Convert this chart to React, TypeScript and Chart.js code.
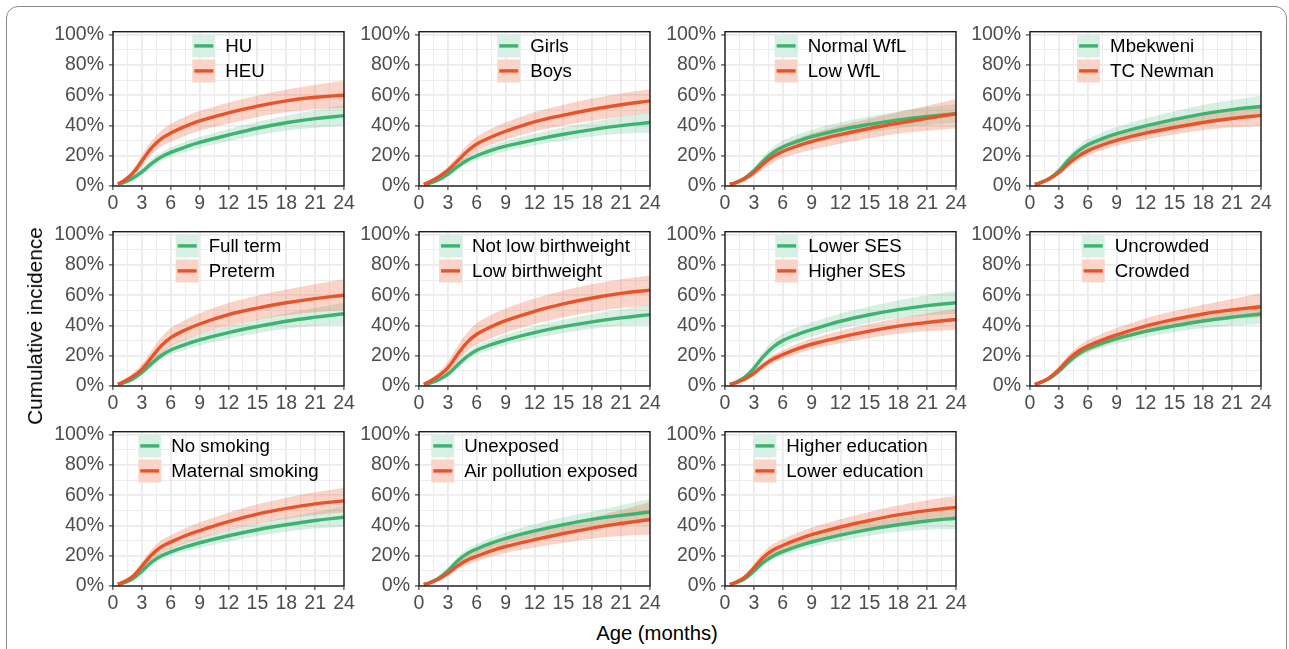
import React, { useEffect, useRef } from 'react';
import { Chart, registerables } from 'chart.js';

Chart.register(...registerables);

// ---------- shared axes / ticks ----------
const MONTHS = [0.5, 1, 2, 3, 4, 5, 6, 7.5, 9, 12, 15, 18, 21, 24];
const X_GRID = [0, 1.5, 3, 4.5, 6, 7.5, 9, 10.5, 12, 13.5, 15, 16.5, 18, 19.5, 21, 22.5, 24];
const X_LABELED = [0, 3, 6, 9, 12, 15, 18, 21, 24];
const Y_GRID = [0, 0.1, 0.2, 0.3, 0.4, 0.5, 0.6, 0.7, 0.8, 0.9, 1.0];
const Y_LABELED = [0, 0.2, 0.4, 0.6, 0.8, 1.0];
const X_TITLE = 'Age (months)';
const Y_TITLE = 'Cumulative incidence';

// ---------- panel 1: HIV exposure ----------
const hivLabels = ['HU', 'HEU'];
const hivG = [0.010, 0.020, 0.050, 0.093, 0.148, 0.192, 0.222, 0.257, 0.288, 0.337, 0.382, 0.418, 0.445, 0.465];
const hivGLo = [0.005, 0.012, 0.035, 0.072, 0.123, 0.163, 0.191, 0.224, 0.252, 0.295, 0.335, 0.365, 0.385, 0.398];
const hivGHi = [0.016, 0.030, 0.066, 0.115, 0.175, 0.221, 0.254, 0.292, 0.325, 0.377, 0.425, 0.465, 0.500, 0.535];
const hivO = [0.015, 0.030, 0.080, 0.165, 0.252, 0.312, 0.350, 0.394, 0.430, 0.483, 0.528, 0.563, 0.587, 0.600];
const hivOLo = [0.007, 0.018, 0.058, 0.130, 0.207, 0.260, 0.292, 0.331, 0.365, 0.413, 0.455, 0.487, 0.507, 0.515];
const hivOHi = [0.024, 0.045, 0.105, 0.205, 0.297, 0.364, 0.410, 0.457, 0.495, 0.550, 0.598, 0.637, 0.668, 0.695];

// ---------- panel 2: sex ----------
const sexLabels = ['Girls', 'Boys'];
const sexG = [0.008, 0.016, 0.040, 0.078, 0.128, 0.170, 0.200, 0.235, 0.263, 0.305, 0.342, 0.373, 0.399, 0.420];
const sexGLo = [0.004, 0.010, 0.028, 0.060, 0.106, 0.145, 0.172, 0.204, 0.230, 0.268, 0.300, 0.327, 0.345, 0.352];
const sexGHi = [0.013, 0.024, 0.054, 0.098, 0.153, 0.197, 0.230, 0.268, 0.298, 0.345, 0.387, 0.424, 0.458, 0.490];
const sexO = [0.012, 0.024, 0.058, 0.104, 0.165, 0.228, 0.278, 0.324, 0.362, 0.424, 0.468, 0.506, 0.537, 0.563];
const sexOLo = [0.006, 0.015, 0.042, 0.082, 0.135, 0.190, 0.230, 0.272, 0.306, 0.360, 0.400, 0.432, 0.458, 0.485];
const sexOHi = [0.019, 0.034, 0.076, 0.128, 0.198, 0.270, 0.325, 0.378, 0.420, 0.488, 0.536, 0.578, 0.612, 0.640];

// ---------- panel 3: weight for length ----------
const wflLabels = ['Normal WfL', 'Low WfL'];
const wflG = [0.010, 0.020, 0.050, 0.100, 0.166, 0.220, 0.258, 0.295, 0.326, 0.372, 0.407, 0.437, 0.460, 0.478];
const wflGLo = [0.005, 0.013, 0.036, 0.078, 0.136, 0.185, 0.218, 0.252, 0.280, 0.322, 0.355, 0.382, 0.403, 0.418];
const wflGHi = [0.016, 0.028, 0.065, 0.123, 0.197, 0.256, 0.300, 0.340, 0.372, 0.422, 0.460, 0.493, 0.520, 0.540];
const wflO = [0.010, 0.019, 0.046, 0.089, 0.148, 0.195, 0.228, 0.264, 0.294, 0.340, 0.380, 0.415, 0.447, 0.478];
const wflOLo = [0.004, 0.010, 0.030, 0.064, 0.113, 0.155, 0.185, 0.215, 0.240, 0.280, 0.315, 0.345, 0.365, 0.380];
const wflOHi = [0.017, 0.029, 0.064, 0.115, 0.186, 0.238, 0.273, 0.314, 0.348, 0.400, 0.445, 0.487, 0.530, 0.575];

// ---------- panel 4: site ----------
const siteLabels = ['Mbekweni', 'TC Newman'];
const siteG = [0.010, 0.020, 0.050, 0.100, 0.172, 0.230, 0.272, 0.313, 0.346, 0.398, 0.440, 0.477, 0.505, 0.526];
const siteGLo = [0.006, 0.013, 0.037, 0.080, 0.145, 0.197, 0.235, 0.273, 0.303, 0.350, 0.388, 0.420, 0.444, 0.457];
const siteGHi = [0.015, 0.028, 0.064, 0.122, 0.200, 0.263, 0.310, 0.354, 0.390, 0.447, 0.493, 0.535, 0.568, 0.597];
const siteO = [0.010, 0.019, 0.047, 0.089, 0.148, 0.196, 0.232, 0.271, 0.302, 0.349, 0.387, 0.420, 0.446, 0.467];
const siteOLo = [0.006, 0.012, 0.034, 0.072, 0.124, 0.168, 0.201, 0.237, 0.266, 0.306, 0.340, 0.368, 0.386, 0.396];
const siteOHi = [0.015, 0.027, 0.061, 0.108, 0.174, 0.226, 0.265, 0.307, 0.340, 0.393, 0.435, 0.474, 0.507, 0.537];

// ---------- panel 5: gestation ----------
const termLabels = ['Full term', 'Preterm'];
const termG = [0.009, 0.018, 0.045, 0.089, 0.148, 0.200, 0.238, 0.274, 0.305, 0.353, 0.393, 0.428, 0.455, 0.478];
const termGLo = [0.005, 0.012, 0.034, 0.072, 0.126, 0.173, 0.208, 0.240, 0.268, 0.312, 0.348, 0.378, 0.397, 0.405];
const termGHi = [0.014, 0.025, 0.058, 0.108, 0.172, 0.228, 0.270, 0.310, 0.343, 0.397, 0.440, 0.480, 0.515, 0.550];
const termO = [0.012, 0.025, 0.060, 0.110, 0.188, 0.265, 0.320, 0.370, 0.410, 0.472, 0.515, 0.550, 0.578, 0.600];
const termOLo = [0.005, 0.013, 0.040, 0.080, 0.146, 0.212, 0.262, 0.306, 0.342, 0.398, 0.437, 0.467, 0.488, 0.500];
const termOHi = [0.020, 0.038, 0.082, 0.145, 0.233, 0.320, 0.382, 0.437, 0.480, 0.548, 0.597, 0.638, 0.673, 0.705];

// ---------- panel 6: birthweight ----------
const bwLabels = ['Not low birthweight', 'Low birthweight'];
const bwG = [0.008, 0.016, 0.040, 0.078, 0.138, 0.195, 0.236, 0.273, 0.304, 0.353, 0.392, 0.424, 0.450, 0.472];
const bwGLo = [0.004, 0.010, 0.029, 0.062, 0.118, 0.170, 0.208, 0.242, 0.270, 0.315, 0.350, 0.378, 0.398, 0.405];
const bwGHi = [0.012, 0.022, 0.052, 0.095, 0.160, 0.222, 0.266, 0.306, 0.340, 0.395, 0.438, 0.475, 0.507, 0.537];
const bwO = [0.013, 0.026, 0.065, 0.120, 0.208, 0.288, 0.342, 0.392, 0.432, 0.494, 0.543, 0.582, 0.612, 0.634];
const bwOLo = [0.005, 0.013, 0.042, 0.085, 0.158, 0.228, 0.272, 0.316, 0.352, 0.410, 0.455, 0.490, 0.515, 0.530];
const bwOHi = [0.022, 0.040, 0.090, 0.160, 0.263, 0.352, 0.415, 0.470, 0.513, 0.578, 0.630, 0.672, 0.705, 0.730];

// ---------- panel 7: socio-economic status ----------
const sesLabels = ['Lower SES', 'Higher SES'];
const sesG = [0.011, 0.022, 0.055, 0.117, 0.196, 0.258, 0.300, 0.340, 0.372, 0.428, 0.471, 0.505, 0.531, 0.550];
const sesGLo = [0.006, 0.014, 0.040, 0.092, 0.165, 0.222, 0.260, 0.297, 0.326, 0.378, 0.418, 0.448, 0.467, 0.478];
const sesGHi = [0.016, 0.030, 0.072, 0.142, 0.230, 0.297, 0.343, 0.386, 0.420, 0.480, 0.526, 0.566, 0.600, 0.630];
const sesO = [0.009, 0.018, 0.044, 0.084, 0.137, 0.178, 0.207, 0.245, 0.276, 0.323, 0.363, 0.396, 0.420, 0.440];
const sesOLo = [0.005, 0.012, 0.033, 0.067, 0.115, 0.152, 0.179, 0.213, 0.241, 0.283, 0.318, 0.346, 0.362, 0.370];
const sesOHi = [0.013, 0.025, 0.057, 0.102, 0.160, 0.205, 0.237, 0.278, 0.312, 0.365, 0.410, 0.448, 0.480, 0.510];

// ---------- panel 8: crowding ----------
const crowdLabels = ['Uncrowded', 'Crowded'];
const crowdG = [0.010, 0.020, 0.049, 0.097, 0.158, 0.210, 0.246, 0.283, 0.313, 0.361, 0.398, 0.430, 0.455, 0.476];
const crowdGLo = [0.006, 0.013, 0.037, 0.080, 0.136, 0.185, 0.219, 0.252, 0.279, 0.322, 0.355, 0.381, 0.399, 0.410];
const crowdGHi = [0.014, 0.027, 0.062, 0.115, 0.181, 0.235, 0.274, 0.315, 0.348, 0.402, 0.443, 0.480, 0.512, 0.540];
const crowdO = [0.011, 0.022, 0.054, 0.108, 0.176, 0.228, 0.264, 0.304, 0.338, 0.396, 0.440, 0.476, 0.503, 0.524];
const crowdOLo = [0.006, 0.014, 0.039, 0.086, 0.148, 0.196, 0.228, 0.265, 0.296, 0.348, 0.388, 0.420, 0.442, 0.455];
const crowdOHi = [0.016, 0.030, 0.070, 0.132, 0.205, 0.261, 0.302, 0.346, 0.383, 0.447, 0.495, 0.537, 0.575, 0.613];

// ---------- panel 9: smoking ----------
const smokeLabels = ['No smoking', 'Maternal smoking'];
const smokeG = [0.009, 0.018, 0.046, 0.097, 0.157, 0.198, 0.226, 0.258, 0.286, 0.332, 0.372, 0.405, 0.433, 0.455];
const smokeGLo = [0.005, 0.012, 0.035, 0.080, 0.135, 0.173, 0.199, 0.228, 0.252, 0.293, 0.330, 0.359, 0.380, 0.392];
const smokeGHi = [0.013, 0.025, 0.058, 0.115, 0.180, 0.224, 0.254, 0.290, 0.320, 0.371, 0.415, 0.453, 0.490, 0.528];
const smokeO = [0.012, 0.024, 0.060, 0.130, 0.205, 0.258, 0.290, 0.332, 0.366, 0.426, 0.475, 0.513, 0.543, 0.563];
const smokeOLo = [0.006, 0.014, 0.042, 0.100, 0.170, 0.217, 0.246, 0.283, 0.313, 0.368, 0.412, 0.444, 0.469, 0.487];
const smokeOHi = [0.018, 0.034, 0.078, 0.160, 0.242, 0.300, 0.336, 0.382, 0.420, 0.485, 0.540, 0.584, 0.620, 0.650];

// ---------- panel 10: air pollution ----------
const airLabels = ['Unexposed', 'Air pollution exposed'];
const airG = [0.010, 0.020, 0.050, 0.100, 0.165, 0.214, 0.245, 0.283, 0.315, 0.364, 0.406, 0.440, 0.467, 0.489];
const airGLo = [0.006, 0.013, 0.038, 0.082, 0.142, 0.187, 0.216, 0.250, 0.279, 0.322, 0.360, 0.390, 0.411, 0.424];
const airGHi = [0.014, 0.027, 0.063, 0.120, 0.190, 0.244, 0.277, 0.318, 0.353, 0.408, 0.454, 0.493, 0.533, 0.576];
const airO = [0.009, 0.018, 0.044, 0.084, 0.133, 0.171, 0.197, 0.232, 0.261, 0.306, 0.347, 0.383, 0.413, 0.440];
const airOLo = [0.004, 0.010, 0.030, 0.064, 0.108, 0.141, 0.163, 0.193, 0.218, 0.254, 0.286, 0.313, 0.330, 0.338];
const airOHi = [0.014, 0.026, 0.058, 0.105, 0.160, 0.203, 0.233, 0.273, 0.307, 0.360, 0.410, 0.455, 0.502, 0.554];

// ---------- panel 11: education ----------
const eduLabels = ['Higher education', 'Lower education'];
const eduG = [0.009, 0.018, 0.046, 0.097, 0.157, 0.199, 0.227, 0.262, 0.291, 0.336, 0.374, 0.405, 0.430, 0.448];
const eduGLo = [0.005, 0.012, 0.035, 0.080, 0.135, 0.174, 0.200, 0.231, 0.257, 0.298, 0.332, 0.358, 0.372, 0.376];
const eduGHi = [0.013, 0.025, 0.058, 0.115, 0.180, 0.224, 0.255, 0.293, 0.325, 0.374, 0.418, 0.452, 0.487, 0.520];
const eduO = [0.011, 0.022, 0.056, 0.120, 0.190, 0.238, 0.268, 0.306, 0.339, 0.390, 0.433, 0.470, 0.498, 0.520];
const eduOLo = [0.006, 0.014, 0.040, 0.095, 0.158, 0.201, 0.230, 0.264, 0.294, 0.340, 0.380, 0.411, 0.432, 0.444];
const eduOHi = [0.016, 0.030, 0.072, 0.147, 0.225, 0.278, 0.308, 0.350, 0.386, 0.442, 0.490, 0.532, 0.567, 0.595];

const PANELS = [
  { labels: hivLabels, g: hivG, gLo: hivGLo, gHi: hivGHi, o: hivO, oLo: hivOLo, oHi: hivOHi },
  { labels: sexLabels, g: sexG, gLo: sexGLo, gHi: sexGHi, o: sexO, oLo: sexOLo, oHi: sexOHi },
  { labels: wflLabels, g: wflG, gLo: wflGLo, gHi: wflGHi, o: wflO, oLo: wflOLo, oHi: wflOHi },
  { labels: siteLabels, g: siteG, gLo: siteGLo, gHi: siteGHi, o: siteO, oLo: siteOLo, oHi: siteOHi },
  { labels: termLabels, g: termG, gLo: termGLo, gHi: termGHi, o: termO, oLo: termOLo, oHi: termOHi },
  { labels: bwLabels, g: bwG, gLo: bwGLo, gHi: bwGHi, o: bwO, oLo: bwOLo, oHi: bwOHi },
  { labels: sesLabels, g: sesG, gLo: sesGLo, gHi: sesGHi, o: sesO, oLo: sesOLo, oHi: sesOHi },
  { labels: crowdLabels, g: crowdG, gLo: crowdGLo, gHi: crowdGHi, o: crowdO, oLo: crowdOLo, oHi: crowdOHi },
  { labels: smokeLabels, g: smokeG, gLo: smokeGLo, gHi: smokeGHi, o: smokeO, oLo: smokeOLo, oHi: smokeOHi },
  { labels: airLabels, g: airG, gLo: airGLo, gHi: airGHi, o: airO, oLo: airOLo, oHi: airOHi },
  { labels: eduLabels, g: eduG, gLo: eduGLo, gHi: eduGHi, o: eduO, oLo: eduOLo, oHi: eduOHi },
];

// ---------- layout & style ----------
const COL_LEFT = [113, 419, 725, 1030];
const ROW_TOP = [29, 229, 429];
const PLOT_W = 231;
const PLOT_H = 157;
const PAD_LEFT = 72;
const PAD_TOP = 14;
const PAD_RIGHT = 16;
const PAD_BOTTOM = 32;
const FONT = '"Liberation Sans", Arial, Helvetica, sans-serif';
const TICK_FONT = 19.5;
const LEGEND_FONT = 18.7;
const TENSION = 0.4;

const GREEN = '#3CB371';
const ORANGE = '#EA5228';
const GREEN_BAND = 'rgba(60,179,113,0.2)';
const ORANGE_BAND = 'rgba(234,82,40,0.25)';

const pts = (arr: number[]) => MONTHS.map((m, i) => ({ x: m, y: arr[i] }));
const isIn = (list: number[], v: number) => list.some((l) => Math.abs(l - v) < 1e-6);

function Panel({ index }: { index: number }) {
  const ref = useRef<HTMLCanvasElement | null>(null);
  const p = PANELS[index];
  const col = index % 4;
  const row = Math.floor(index / 4);
  const left = COL_LEFT[col] - PAD_LEFT;
  const top = ROW_TOP[row] - PAD_TOP;
  const width = PAD_LEFT + PLOT_W + PAD_RIGHT;
  const height = PAD_TOP + PLOT_H + PAD_BOTTOM;

  useEffect(() => {
    if (!ref.current) return;
    const bandDs = (data: number[], color: string, fill: any, order: number) => ({
      data: pts(data),
      borderWidth: 0,
      borderColor: 'rgba(0,0,0,0)',
      backgroundColor: color,
      pointRadius: 0,
      fill,
      order,
      tension: TENSION,
    });
    const lineDs = (data: number[], color: string, order: number) => ({
      data: pts(data),
      borderWidth: 3.4,
      borderColor: color,
      backgroundColor: color,
      pointRadius: 0,
      fill: false,
      order,
      tension: TENSION,
      borderCapStyle: 'butt' as const,
      borderJoinStyle: 'round' as const,
    });

    const frame = {
      id: 'frame',
      afterDatasetsDraw(chart: any) {
        const { ctx, chartArea: a } = chart;
        ctx.save();
        ctx.strokeStyle = '#1a1a1a';
        ctx.lineWidth = 1.4;
        ctx.strokeRect(a.left, a.top, a.right - a.left, a.bottom - a.top);
        ctx.restore();
      },
    };
    const legend = {
      id: 'facetLegend',
      afterDraw(chart: any) {
        const { ctx, chartArea: a } = chart;
        const KEY = 23;
        const GAP = 10;
        ctx.save();
        ctx.font = `${LEGEND_FONT}px ${FONT}`;
        const tw = Math.max(...p.labels.map((l) => ctx.measureText(l).width));
        const total = KEY + GAP + tw;
        const x0 = (a.left + a.right) / 2 - total / 2;
        const colors = [GREEN, ORANGE];
        const bands = [GREEN_BAND, ORANGE_BAND];
        p.labels.forEach((lab, i) => {
          const ky = a.top + 2.7 + i * 25;
          ctx.fillStyle = '#ffffff';
          ctx.fillRect(x0, ky, KEY, KEY);
          ctx.fillStyle = bands[i];
          ctx.fillRect(x0, ky, KEY, KEY);
          ctx.strokeStyle = colors[i];
          ctx.lineWidth = 3.4;
          ctx.beginPath();
          ctx.moveTo(x0 + 2, ky + KEY / 2);
          ctx.lineTo(x0 + KEY - 2, ky + KEY / 2);
          ctx.stroke();
          ctx.fillStyle = '#000000';
          ctx.textBaseline = 'middle';
          ctx.textAlign = 'left';
          ctx.fillText(lab, x0 + KEY + GAP, ky + KEY / 2 + 0.5);
        });
        ctx.restore();
      },
    };

    const chart = new Chart(ref.current, {
      type: 'line',
      data: {
        datasets: [
          bandDs(p.gLo, GREEN_BAND, false, 3),
          bandDs(p.gHi, GREEN_BAND, '-1', 3),
          bandDs(p.oLo, ORANGE_BAND, false, 2),
          bandDs(p.oHi, ORANGE_BAND, '-1', 2),
          lineDs(p.g, GREEN, 1),
          lineDs(p.o, ORANGE, 0),
        ] as any,
      },
      options: {
        animation: false,
        responsive: false,
        devicePixelRatio: 1,
        layout: { padding: { left: 0, top: PAD_TOP, right: PAD_RIGHT, bottom: 0 } },
        plugins: { legend: { display: false }, tooltip: { enabled: false } },
        events: [],
        scales: {
          x: {
            type: 'linear',
            min: 0,
            max: 24,
            afterBuildTicks: (s: any) => {
              s.ticks = X_GRID.map((v) => ({ value: v }));
            },
            afterFit: (s: any) => {
              s.height = PAD_BOTTOM;
            },
            border: { display: false },
            grid: {
              color: '#ebebeb',
              lineWidth: (c: any) => (isIn(X_LABELED, c.tick?.value) ? 1.8 : 0.9),
              tickColor: (c: any) => (isIn(X_LABELED, c.tick?.value) ? '#333333' : 'rgba(0,0,0,0)'),
              tickWidth: 1.1,
              tickLength: 4,
              drawTicks: true,
            },
            ticks: {
              autoSkip: false,
              maxRotation: 0,
              minRotation: 0,
              padding: 2,
              color: '#4d4d4d',
              font: { family: FONT, size: TICK_FONT },
              callback: (v: any) => (isIn(X_LABELED, Number(v)) ? String(v) : ''),
            },
          },
          y: {
            type: 'linear',
            min: 0,
            max: 1.02,
            afterBuildTicks: (s: any) => {
              s.ticks = Y_GRID.map((v) => ({ value: v }));
            },
            afterFit: (s: any) => {
              s.width = PAD_LEFT;
            },
            border: { display: false },
            grid: {
              color: '#ebebeb',
              lineWidth: (c: any) => (isIn(Y_LABELED, c.tick?.value) ? 1.8 : 0.9),
              tickColor: (c: any) => (isIn(Y_LABELED, c.tick?.value) ? '#333333' : 'rgba(0,0,0,0)'),
              tickWidth: 1.1,
              tickLength: 4,
              drawTicks: true,
            },
            ticks: {
              autoSkip: false,
              padding: 5,
              color: '#4d4d4d',
              font: { family: FONT, size: TICK_FONT },
              callback: (v: any) => (isIn(Y_LABELED, Number(v)) ? `${Math.round(Number(v) * 100)}%` : ''),
            },
          },
        },
      } as any,
      plugins: [frame, legend],
    });
    return () => chart.destroy();
  }, [index]);

  return (
    <canvas
      ref={ref}
      width={width}
      height={height}
      style={{ position: 'absolute', left, top, width, height }}
    />
  );
}

export default function App() {
  return (
    <div style={{ position: 'fixed', inset: 0, overflow: 'hidden', background: '#ffffff', fontFamily: FONT }}>
      <div
        style={{
          position: 'absolute',
          left: 6,
          top: 6,
          width: 1281,
          height: 800,
          border: '1.3px solid #8a8a8a',
          borderRadius: 12,
          boxSizing: 'border-box',
        }}
      />
      {PANELS.map((_, i) => (
        <Panel key={i} index={i} />
      ))}
      <div
        style={{
          position: 'absolute',
          left: 35,
          top: 326,
          transform: 'translate(-50%, -50%) rotate(-90deg)',
          whiteSpace: 'nowrap',
          fontSize: 20.8,
          color: '#000',
        }}
      >
        {Y_TITLE}
      </div>
      <div
        style={{
          position: 'absolute',
          left: 657,
          top: 633,
          transform: 'translate(-50%, -50%)',
          whiteSpace: 'nowrap',
          fontSize: 20.3,
          color: '#000',
        }}
      >
        {X_TITLE}
      </div>
    </div>
  );
}
